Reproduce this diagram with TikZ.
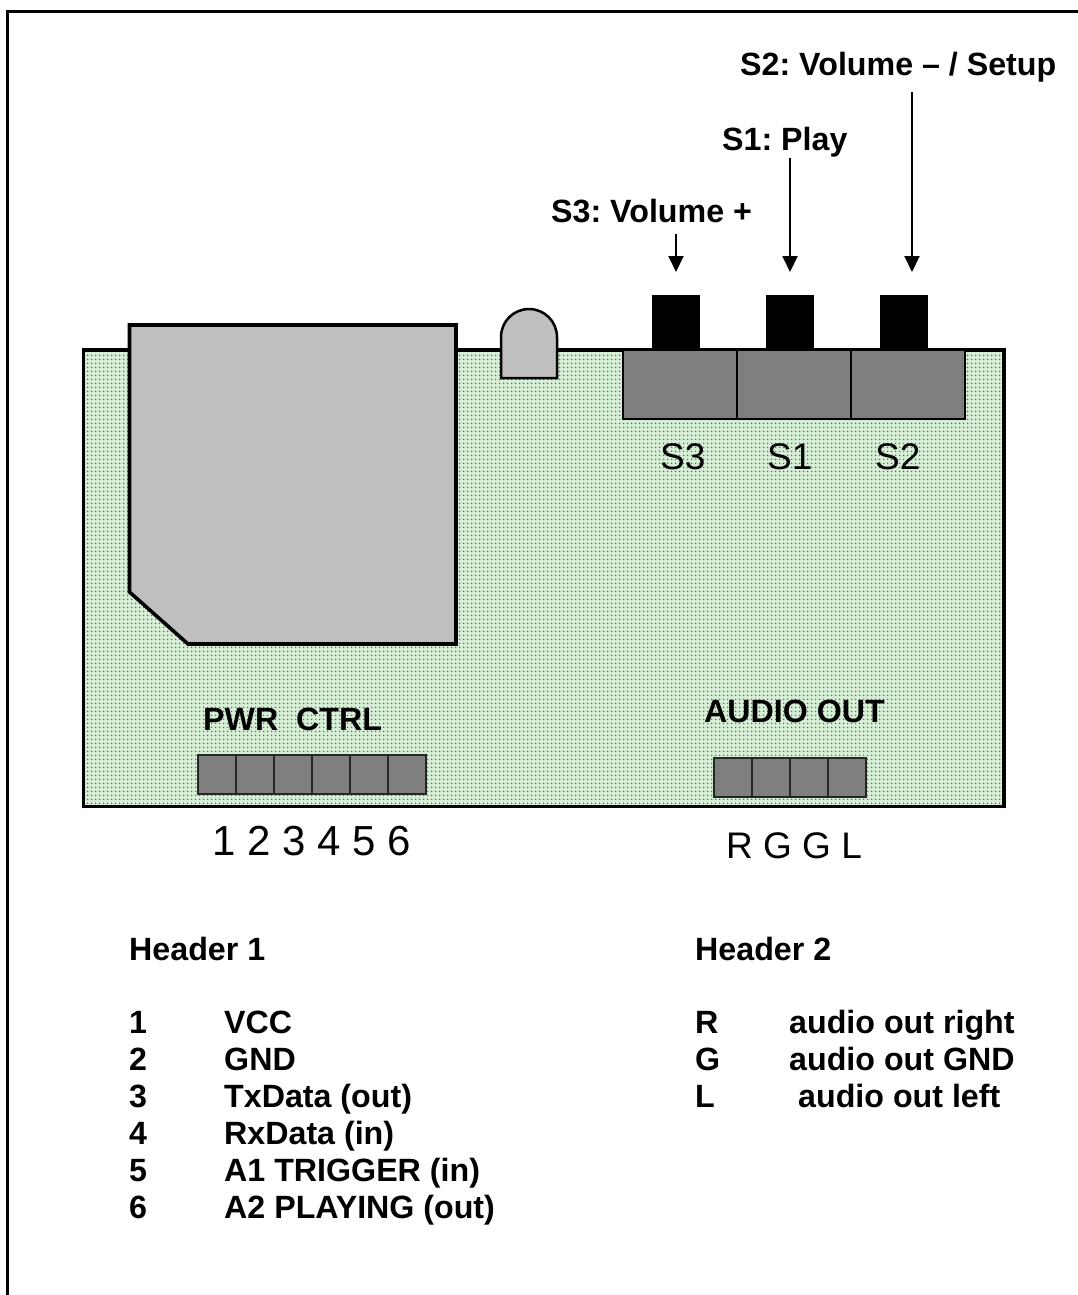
\documentclass[tikz,border=0pt]{standalone}
\usepackage{fontspec}
\setmainfont{Liberation Sans}
\usetikzlibrary{arrows.meta,patterns.meta}
\definecolor{cardgray}{HTML}{BFBFBF}
\definecolor{pingray}{HTML}{7F7F7F}
\definecolor{boardbase}{HTML}{D6EFD6}
\definecolor{bdot}{HTML}{2F962F}
\tikzset{
  x=1pt,y=-1pt,
  outline/.style={draw=black,line width=3.6pt,line join=miter},
  cell/.style={draw=black!85,line width=1.6pt,fill=pingray,minimum width=38pt,minimum height=39pt,inner sep=0pt,outer sep=0pt,anchor=north west},
  swcell/.style={draw=black,line width=2pt,fill=pingray,minimum width=114pt,minimum height=69pt,inner sep=0pt,outer sep=0pt,anchor=north west},
  knob/.style={fill=black,draw=none,minimum width=48pt,minimum height=55pt,inner sep=0pt,outer sep=0pt,anchor=north west},
  ptr/.style={draw=black,line width=2pt,-{Triangle[length=16pt,width=15pt]}},
  lab/.style={font=\frenchspacing\fontsize{32.2}{36}\selectfont\bfseries,inner sep=0pt,anchor=base west},
  pin/.style={font=\fontsize{37}{40}\selectfont,inner sep=0pt,anchor=base west},
  num/.style={font=\fontsize{42}{44}\selectfont,inner sep=0pt,anchor=base west},
}
\begin{document}
\begin{tikzpicture}
\useasboundingbox (0,0) rectangle (1078,1295);
\draw[black,line width=3pt] (7.5,1295) coordinate (fb) -- (7.5,12) coordinate (fc) -- (1078,12) coordinate (fr);
% board
\path[fill=boardbase] (83,350) rectangle (1004,806.5);
\path[pattern={Dots[radius=1pt,distance=4pt]},pattern color=bdot] (83,350) rectangle (1004,806.5);
\draw[outline] (83.5,350) rectangle (1004,806.5);
% SD card
\draw[outline,fill=cardgray] (129.5,325) -- (456,325) -- (456,644) -- (188,644) -- (129.5,592) -- cycle;
% LED
\draw[draw=black,line width=2.5pt,fill=cardgray] (501,378) -- (501,337) arc[start angle=180,end angle=360,x radius=28,y radius=28] -- (557,378) -- cycle;
% knobs
\node[knob] (k3) at (652,295) {};
\node[knob] (k1) at (766,295) {};
\node[knob] (k2) at (880,295) {};
% switches
\node[swcell] (s3) at (623,350) {};
\node[swcell] (s1) at (737,350) {};
\node[swcell] (s2) at (851,350) {};
% header 1
\foreach \i [count=\n from 0] in {a,b,c,d,e,f}{ \node[cell] (h\i) at (198+38*\n,755) {}; }
% header 2
\foreach \i [count=\n from 0] in {a,b,c,d}{ \node[cell] (j\i) at (714+38*\n,758) {}; }
% labels on top
\node[lab] (l2) at (740,76) {S2: Volume – / Setup};
\node[lab] (l1) at (722,150) {S1: Play};
\node[lab] (l3) at (551,222) {S3: Volume +};
\coordinate (a2s) at (912,92);\coordinate (a2e) at (912,272);
\coordinate (a1s) at (790,158);\coordinate (a1e) at (790,272);
\coordinate (a3s) at (676,234);\coordinate (a3e) at (676,272);
\draw[ptr] (a2s) -- (a2e);
\draw[ptr] (a1s) -- (a1e);
\draw[ptr] (a3s) -- (a3e);
\node[pin] (t3) at (660,469) {S3};
\node[pin] (t1) at (767,469) {S1};
\node[pin] (t2) at (875,469) {S2};
\node[lab] (pc) at (203,730) {PWR\ \ CTRL};
\node[lab] (ao) at (704,722) {AUDIO OUT};
\node[num] (nums) at (212,855) {1 2 3 4 5 6};
\node[pin] (rggl) at (726,858) {R G G L};
\node[lab] (h1) at (129,960) {Header 1};
\node[lab] (h2) at (695,960) {Header 2};
\node[lab] at (129,1033) {1}; \node[lab] at (224,1033) {VCC};
\node[lab] at (129,1070) {2}; \node[lab] at (224,1070) {GND};
\node[lab] at (129,1107) {3}; \node[lab] at (224,1107) {TxData (out)};
\node[lab] at (129,1144) {4}; \node[lab] at (224,1144) {RxData (in)};
\node[lab] at (129,1181) {5}; \node[lab] at (224,1181) {A1 TRIGGER (in)};
\node[lab] at (129,1218) {6}; \node[lab] at (224,1218) {A2 PLAYING (out)};
\node[lab] at (695,1033) {R}; \node[lab] at (789,1033) {audio out right};
\node[lab] at (695,1070) {G}; \node[lab] at (789,1070) {audio out GND};
\node[lab] at (695,1107) {L}; \node[lab] at (798,1107) {audio out left};
\end{tikzpicture}
\end{document}
